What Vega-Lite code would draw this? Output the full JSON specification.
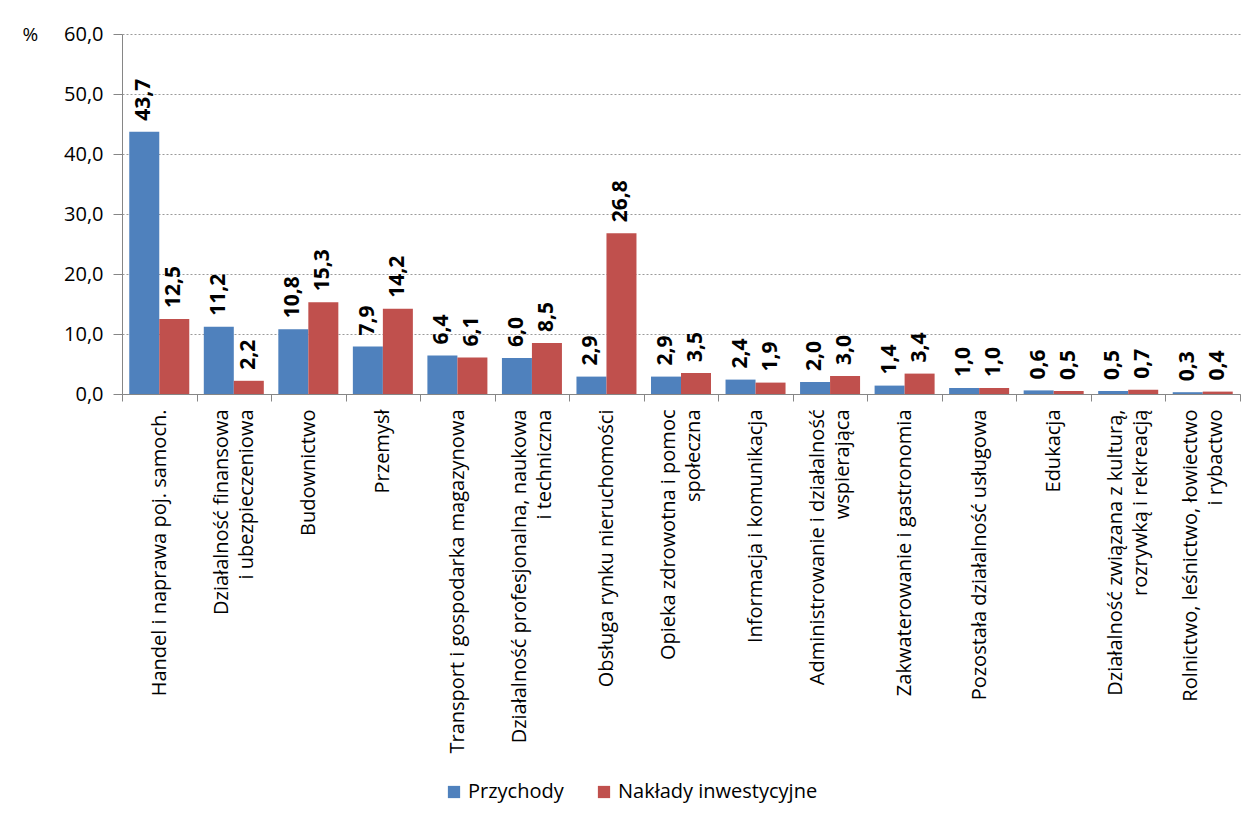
{
  "$schema": "https://vega.github.io/schema/vega-lite/v6.json",
  "autosize": {"type": "none"},
  "padding": {"left": 122, "top": 34, "right": 4, "bottom": 422},
  "width": 1118,
  "height": 360,
  "background": "white",
  "config": {
    "locale": {"number": {"decimal": ",", "thousands": "\u00a0", "grouping": [3], "currency": ["", " zł"]}},
    "font": "Open Sans",
    "view": {"stroke": null},
    "axis": {"domainColor": "#868686", "tickColor": "#868686", "labelColor": "#000", "titleColor": "#000", "labelFont": "Open Sans", "titleFont": "Open Sans"}
  },
  "data": {
    "values": [
      {"kategoria": "Handel i naprawa poj. samoch.", "seria": "Przychody", "wartosc": 43.7},
      {"kategoria": "Handel i naprawa poj. samoch.", "seria": "Nakłady inwestycyjne", "wartosc": 12.5},
      {"kategoria": "Działalność finansowa\ni ubezpieczeniowa", "seria": "Przychody", "wartosc": 11.2},
      {"kategoria": "Działalność finansowa\ni ubezpieczeniowa", "seria": "Nakłady inwestycyjne", "wartosc": 2.2},
      {"kategoria": "Budownictwo", "seria": "Przychody", "wartosc": 10.8},
      {"kategoria": "Budownictwo", "seria": "Nakłady inwestycyjne", "wartosc": 15.3},
      {"kategoria": "Przemysł", "seria": "Przychody", "wartosc": 7.9},
      {"kategoria": "Przemysł", "seria": "Nakłady inwestycyjne", "wartosc": 14.2},
      {"kategoria": "Transport i gospodarka magazynowa", "seria": "Przychody", "wartosc": 6.4},
      {"kategoria": "Transport i gospodarka magazynowa", "seria": "Nakłady inwestycyjne", "wartosc": 6.1},
      {"kategoria": "Działalność profesjonalna, naukowa\ni techniczna", "seria": "Przychody", "wartosc": 6.0},
      {"kategoria": "Działalność profesjonalna, naukowa\ni techniczna", "seria": "Nakłady inwestycyjne", "wartosc": 8.5},
      {"kategoria": "Obsługa rynku nieruchomości", "seria": "Przychody", "wartosc": 2.9},
      {"kategoria": "Obsługa rynku nieruchomości", "seria": "Nakłady inwestycyjne", "wartosc": 26.8},
      {"kategoria": "Opieka zdrowotna i pomoc\nspołeczna", "seria": "Przychody", "wartosc": 2.9},
      {"kategoria": "Opieka zdrowotna i pomoc\nspołeczna", "seria": "Nakłady inwestycyjne", "wartosc": 3.5},
      {"kategoria": "Informacja i komunikacja", "seria": "Przychody", "wartosc": 2.4},
      {"kategoria": "Informacja i komunikacja", "seria": "Nakłady inwestycyjne", "wartosc": 1.9},
      {"kategoria": "Administrowanie i działalność\nwspierająca", "seria": "Przychody", "wartosc": 2.0},
      {"kategoria": "Administrowanie i działalność\nwspierająca", "seria": "Nakłady inwestycyjne", "wartosc": 3.0},
      {"kategoria": "Zakwaterowanie i gastronomia", "seria": "Przychody", "wartosc": 1.4},
      {"kategoria": "Zakwaterowanie i gastronomia", "seria": "Nakłady inwestycyjne", "wartosc": 3.4},
      {"kategoria": "Pozostała działalność usługowa", "seria": "Przychody", "wartosc": 1.0},
      {"kategoria": "Pozostała działalność usługowa", "seria": "Nakłady inwestycyjne", "wartosc": 1.0},
      {"kategoria": "Edukacja", "seria": "Przychody", "wartosc": 0.6},
      {"kategoria": "Edukacja", "seria": "Nakłady inwestycyjne", "wartosc": 0.5},
      {"kategoria": "Działalność związana z kulturą,\nrozrywką i rekreacją", "seria": "Przychody", "wartosc": 0.5},
      {"kategoria": "Działalność związana z kulturą,\nrozrywką i rekreacją", "seria": "Nakłady inwestycyjne", "wartosc": 0.7},
      {"kategoria": "Rolnictwo, leśnictwo, łowiectwo\ni rybactwo", "seria": "Przychody", "wartosc": 0.3},
      {"kategoria": "Rolnictwo, leśnictwo, łowiectwo\ni rybactwo", "seria": "Nakłady inwestycyjne", "wartosc": 0.4}
    ]
  },
  "encoding": {
    "x": {
      "field": "kategoria", "type": "nominal", "sort": null,
      "scale": {"paddingInner": 0, "paddingOuter": 0},
      "axis": {
        "title": null,
        "tickBand": "extent",
        "tickSize": 7,
        "labelAngle": 270,
        "labelAlign": "right",
        "labelBaseline": "middle",
        "labelPadding": 8,
        "labelFontSize": 20,
        "labelLineHeight": 12.5,
        "labelOffset": -12.5,
        "labelExpr": "indexof(datum.label, '\\n') >= 0 ? [split(datum.label, '\\n')[0], '\u2800', split(datum.label, '\\n')[1]] : ['\u2800', datum.label]",
        "labelLimit": 0,
        "labelOverlap": false,
        "domainWidth": 1
      }
    },
    "xOffset": {
      "field": "seria", "type": "nominal",
      "sort": ["Przychody", "Nakłady inwestycyjne"],
      "scale": {"paddingInner": 0, "paddingOuter": 0.242}
    },
    "y": {
      "field": "wartosc", "type": "quantitative",
      "scale": {"domain": [0, 60], "nice": false},
      "axis": {
        "title": "%",
        "titleAngle": 0,
        "titleAlign": "left",
        "titleBaseline": "middle",
        "titleX": -100,
        "titleY": 0,
        "titleFontSize": 19,
        "titleFontWeight": "normal",
        "values": [0, 10, 20, 30, 40, 50, 60],
        "format": ".1f",
        "labelFontSize": 20,
        "labelPadding": 10,
        "tickSize": 9,
        "grid": true,
        "gridColor": "#9a9a9a",
        "gridDash": [2, 2],
        "gridWidth": 1
      }
    }
  },
  "layer": [
    {
      "mark": {"type": "bar"},
      "encoding": {
        "color": {
          "field": "seria", "type": "nominal",
          "scale": {"domain": ["Przychody", "Nakłady inwestycyjne"], "range": ["#4F81BD", "#C0504D"]},
          "legend": {
            "title": null,
            "orient": "none",
            "direction": "horizontal",
            "legendX": 322,
            "legendY": 748,
            "symbolType": "square",
            "symbolSize": 150,
            "symbolStrokeWidth": 0,
            "labelFontSize": 20,
            "labelLimit": 0,
            "labelColor": "#000",
            "labelFont": "Open Sans",
            "columnPadding": 30,
            "symbolOffset": 0
          }
        }
      }
    },
    {
      "mark": {"type": "text", "angle": 270, "align": "left", "baseline": "middle", "dx": 11, "fontSize": 21, "fontWeight": "bold", "color": "#000"},
      "encoding": {
        "text": {"field": "wartosc", "type": "quantitative", "format": ".1f"}
      }
    }
  ]
}
